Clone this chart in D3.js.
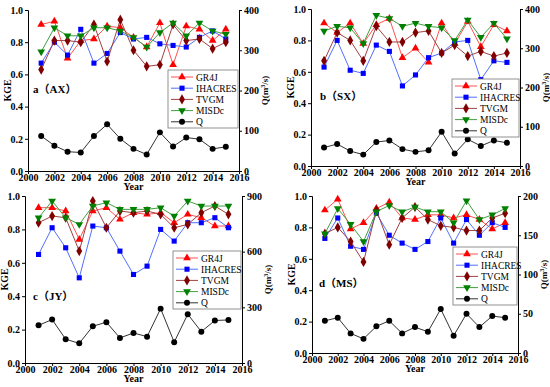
<!DOCTYPE html>
<html>
<head>
<meta charset="utf-8">
<script src="https://cdn.jsdelivr.net/npm/d3@7"></script>
<style>
  body { margin: 0; background: #fff; }
  svg text { font-family: "Liberation Serif", "Times New Roman", "Noto Sans CJK SC", serif; }
  .axis text { font-weight: bold; font-size: 10px; }
  .axis path, .axis line { stroke: #000; }
</style>
</head>
<body>
<div id="chart"></div>
<script>
var years = d3.range(2001, 2016);
var seriesNames = ["GR4J", "IHACRES", "TVGM", "MISDc", "Q"];

// KGE per station
var gr4j_AX    = [0.91,0.93,0.70,0.81,0.82,0.90,0.89,0.83,0.77,0.92,0.66,0.90,0.88,0.81,0.88];
var ihacres_AX = [0.67,0.80,0.72,0.88,0.67,0.73,0.86,0.82,0.83,0.79,0.78,0.77,0.83,0.87,0.82];
var tvgm_AX    = [0.63,0.81,0.81,0.80,0.91,0.68,0.94,0.75,0.65,0.66,0.91,0.81,0.82,0.76,0.80];
var misdc_AX   = [0.74,0.89,0.84,0.84,0.89,0.89,0.87,0.83,0.77,0.86,0.92,0.84,0.92,0.87,0.85];
var q_AX       = [87,63,48,46,87,116,80,55,41,96,61,83,79,55,60];

var gr4j_SX    = [0.91,0.85,0.91,0.78,0.90,0.94,0.69,0.75,0.66,0.91,0.78,0.92,0.76,0.90,0.86];
var ihacres_SX = [0.63,0.80,0.61,0.59,0.77,0.73,0.51,0.58,0.69,0.72,0.79,0.80,0.55,0.67,0.66];
var tvgm_SX    = [0.67,0.85,0.80,0.67,0.89,0.79,0.79,0.85,0.86,0.72,0.77,0.70,0.73,0.70,0.72];
var misdc_SX   = [0.86,0.89,0.88,0.78,0.96,0.94,0.89,0.91,0.89,0.88,0.80,0.93,0.82,0.91,0.81];
var q_SX       = [47,56,38,29,61,65,43,36,40,87,32,68,51,65,59];

var gr4j_JY    = [0.93,0.93,0.91,0.74,0.91,0.93,0.86,0.90,0.89,0.90,0.84,0.89,0.87,0.82,0.82];
var ihacres_JY = [0.65,0.81,0.69,0.51,0.82,0.81,0.67,0.53,0.58,0.80,0.73,0.84,0.84,0.87,0.81];
var tvgm_JY    = [0.84,0.88,0.87,0.67,0.97,0.81,0.91,0.90,0.91,0.89,0.81,0.83,0.90,0.94,0.89];
var misdc_JY   = [0.87,0.97,0.87,0.83,0.94,0.96,0.92,0.92,0.92,0.93,0.88,0.97,0.94,0.94,0.94];
var q_JY       = [203,234,128,106,198,220,135,162,142,293,112,263,169,229,232];

var gr4j_MS    = [0.91,0.98,0.79,0.83,0.92,0.96,0.86,0.85,0.88,0.88,0.86,0.88,0.85,0.79,0.83];
var ihacres_MS = [0.73,0.86,0.68,0.66,0.89,0.75,0.70,0.66,0.71,0.86,0.70,0.85,0.75,0.83,0.80];
var tvgm_MS    = [0.76,0.80,0.71,0.58,0.91,0.69,0.86,0.93,0.85,0.81,0.80,0.78,0.78,0.86,0.89];
var misdc_MS   = [0.76,0.92,0.82,0.71,0.90,0.94,0.90,0.93,0.90,0.90,0.83,0.97,0.85,0.88,0.92];
var q_MS       = [41,45,25,18,34,41,25,33,27,56,22,50,33,47,45];

var colors = {GR4J:"#ff0000", IHACRES:"#0000ff", TVGM:"#800000", MISDc:"#008000", Q:"#000000"};
var lineColors = {GR4J:"#ff5050", IHACRES:"#5070ff", TVGM:"#a04040", MISDc:"#40a040", Q:"#333333"};

var panels = [
  {label:"a（AX）", x0:28, x1:239, y0:10, y1:171, qMax:400, qStep:100,
   data:[gr4j_AX, ihacres_AX, tvgm_AX, misdc_AX], q:q_AX, lab:[33,93], leg:[168,70]},
  {label:"b（SX）", x0:311, x1:520, y0:9, y1:166, qMax:400, qStep:100,
   data:[gr4j_SX, ihacres_SX, tvgm_SX, misdc_SX], q:q_SX, lab:[320,100], leg:[452,79]},
  {label:"c（JY）", x0:25, x1:242, y0:196, y1:363, qMax:900, qStep:300,
   data:[gr4j_JY, ihacres_JY, tvgm_JY, misdc_JY], q:q_JY, lab:[33,300], leg:[173,251]},
  {label:"d（MS）", x0:312, x1:518, y0:196, y1:353, qMax:200, qStep:50,
   data:[gr4j_MS, ihacres_MS, tvgm_MS, misdc_MS], q:q_MS, lab:[319,287], leg:[453,247]}
];

var svg = d3.select("#chart").append("svg")
    .attr("width", 550)
    .attr("height", 387);

function symbolFor(name) {
    if (name == "GR4J") return d3.symbol().type(d3.symbolTriangle).size(26);
    if (name == "IHACRES") return d3.symbol().type(d3.symbolSquare).size(26);
    if (name == "TVGM") return d3.symbol().type(d3.symbolDiamond).size(30);
    if (name == "MISDc") return d3.symbol().type(d3.symbolTriangle).size(26);
    return d3.symbol().type(d3.symbolCircle).size(28);
}

function drawMarkers(g, name, pts) {
    g.selectAll(null)
        .data(pts)
        .enter().append("path")
        .attr("d", symbolFor(name)())
        .attr("transform", function(d){
            return "translate(" + d[0] + "," + d[1] + ")" + (name == "MISDc" ? " rotate(180)" : "");
        })
        .style("fill", colors[name]);
}

panels.forEach(function(p) {
    var x = d3.scaleLinear().domain([2000, 2016]).range([p.x0, p.x1]);
    var y = d3.scaleLinear().domain([0, 1]).range([p.y1, p.y0]);
    var yq = d3.scaleLinear().domain([0, p.qMax]).range([p.y1, p.y0]);

    var g = svg.append("g");

    // axes
    g.append("g")
        .attr("class", "axis")
        .attr("transform", "translate(0," + p.y1 + ")")
        .call(d3.axisBottom(x).tickValues(d3.range(2000, 2017, 2)).tickFormat(d3.format("d")).tickSize(3).tickPadding(0));

    g.append("g")
        .attr("class", "axis")
        .attr("transform", "translate(" + p.x0 + ",0)")
        .call(d3.axisLeft(y).tickValues(d3.range(0, 1.01, 0.2)).tickFormat(d3.format(".1f")).tickSize(3).tickPadding(2));

    g.append("g")
        .attr("class", "axis")
        .attr("transform", "translate(" + p.x1 + ",0)")
        .call(d3.axisRight(yq).tickValues(d3.range(0, p.qMax + 1, p.qStep)).tickSize(3).tickPadding(2));

    // axis titles
    g.append("text")
        .attr("x", (p.x0 + p.x1) / 2)
        .attr("y", p.y1 + 19)
        .attr("text-anchor", "middle")
        .style("font-weight", "bold").style("font-size", "10px")
        .text("Year");

    g.append("text")
        .attr("transform", "translate(" + (p.x0 - 17) + "," + ((p.y0 + p.y1) / 2) + ") rotate(-90)")
        .attr("text-anchor", "middle")
        .style("font-weight", "bold").style("font-size", "10px")
        .text("KGE");

    var qt = g.append("text")
        .attr("transform", "translate(" + (p.x1 + 29) + "," + ((p.y0 + p.y1) / 2) + ") rotate(-90)")
        .attr("text-anchor", "middle")
        .style("font-weight", "bold").style("font-size", "9px");
    qt.append("tspan").text("Q(m");
    qt.append("tspan").attr("dy", -3).style("font-size", "6px").text("3");
    qt.append("tspan").attr("dy", 3).text("/s)");

    // KGE series
    var line = d3.line().x(function(d){ return d[0]; }).y(function(d){ return d[1]; });
    p.data.forEach(function(vals, i) {
        var name = seriesNames[i];
        var pts = vals.map(function(v, j){ return [x(years[j]), y(v)]; });
        g.append("path")
            .attr("d", line(pts))
            .style("fill", "none")
            .style("stroke", lineColors[name])
            .style("stroke-width", 1);
        drawMarkers(g, name, pts);
    });

    // Q series
    var qpts = p.q.map(function(v, j){ return [x(years[j]), yq(v)]; });
    g.append("path")
        .attr("d", line(qpts))
        .style("fill", "none")
        .style("stroke", lineColors.Q)
        .style("stroke-width", 1);
    drawMarkers(g, "Q", qpts);

    // panel label
    g.append("text")
        .attr("x", p.lab[0]).attr("y", p.lab[1])
        .style("font-weight", "bold").style("font-size", "11px")
        .text(p.label);

    // legend
    var lg = g.append("g").attr("transform", "translate(" + p.leg[0] + "," + p.leg[1] + ")");
    lg.append("rect")
        .attr("width", p.x1 - p.leg[0] - 1).attr("height", 58)
        .style("fill", "#fff").style("stroke", "#777").style("stroke-width", 0.8);
    seriesNames.forEach(function(name, i) {
        var ly = 7 + i * 11.2;
        lg.append("line")
            .attr("x1", 3).attr("x2", 25).attr("y1", ly).attr("y2", ly)
            .style("stroke", lineColors[name]).style("stroke-width", 1);
        drawMarkers(lg, name, [[14, ly]]);
        lg.append("text")
            .attr("x", 28).attr("y", ly + 3.5)
            .style("font-size", "9.5px")
            .text(name);
    });
});
</script>
</body>
</html>
